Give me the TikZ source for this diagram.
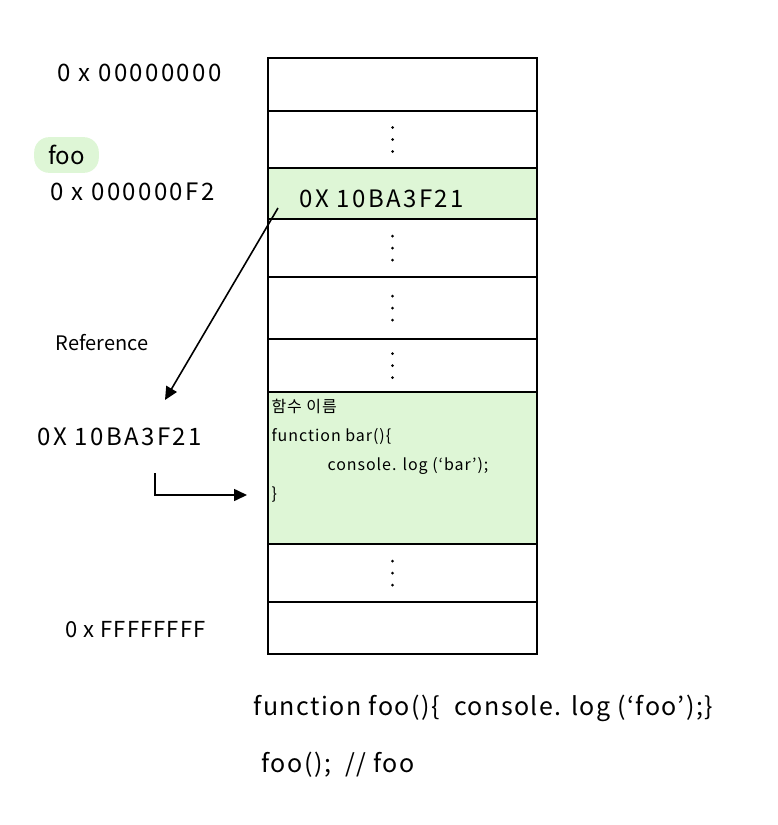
\documentclass[tikz,border=0pt]{standalone}
\usepackage{fontspec}
\setmainfont{Noto Sans CJK KR}
\usetikzlibrary{
  positioning,
  arrows.meta
}
\definecolor{hlgreen}{RGB}{222,246,214}
\tikzset{
  cell/.style={draw, line width=1.6pt, minimum width=269pt, inner sep=0pt, outer sep=0pt},
  marked/.style={cell, fill=hlgreen},
  addr/.style={anchor=west, font=\fontsize{24}{28}\selectfont\addfontfeature{LetterSpace=10}},
  code/.style={anchor=north west, align=left, font=\fontsize{16}{29}\selectfont\addfontfeature{LetterSpace=6}},
  ptr/.style={-{Triangle[length=13pt,width=12pt]}, line width=1.6pt},
  dot/.style={circle, fill, inner sep=0pt, minimum size=3pt}
}

\begin{document}
\begin{tikzpicture}[x=1pt, y=-1pt]
    \useasboundingbox (0,0) rectangle (778,825);
    % memory cells
    \node[cell, minimum height=53pt] (c0) at (402.5,84.5) {};
    \node[cell, minimum height=57pt, below=0pt of c0] (c1) {};
    \node[marked, minimum height=51pt, below=0pt of c1] (c2) {};
    \node[cell, minimum height=58pt, below=0pt of c2] (c3) {};
    \node[cell, minimum height=62pt, below=0pt of c3] (c4) {};
    \node[cell, minimum height=53pt, below=0pt of c4] (c5) {};
    \node[marked, minimum height=152pt, below=0pt of c5] (c6) {};
    \node[cell, minimum height=58pt, below=0pt of c6] (c7) {};
    \node[cell, minimum height=52pt, below=0pt of c7] (c8) {};
    \foreach \c in {c1,c3,c4,c5,c7}
      \foreach \d in {-12,0,12}
        \node[dot] at ([xshift=-10pt, yshift=\d pt]\c.center) {};
    % addresses
    \node[addr] (a0) at (54,73) {0 x 00000000};
    \node[anchor=west, fill=hlgreen, rounded corners=15pt, inner xsep=14pt, inner ysep=8pt,
          font=\fontsize{24}{28}\selectfont] (foo) at (34,155) {foo};
    \node[addr] (a1) at (47,192) {0 x 000000F2};
    \node[addr, font=\fontsize{20}{24}\selectfont] (ref) at (52,343) {Reference};
    \node[addr] (a2) at (34,437) {0X 10BA3F21};
    \node[addr] (val) at (296,199) {0X 10BA3F21};
    \node[addr, font=\fontsize{22}{26}\selectfont\addfontfeature{LetterSpace=5}] (a3) at (62,630) {0 x FFFFFFFF};
    % function body
    \node[code] (body) at (268,396) {함수 이름\\function bar()\{\\\hspace*{56pt}console. log (`bar');\\\}};
    % pointers
    \coordinate (p0) at (278,208);
    \coordinate (p1) at (165,400);
    \draw[ptr] (p0) -- (p1);
    \coordinate (q0) at (155,473);
    \coordinate (q1) at (247,495);
    \draw[ptr] (q0) |- (q1);
    % source
    \node[addr, font=\fontsize{25}{30}\selectfont\addfontfeature{LetterSpace=6}] (src) at (250,708) {function foo()\{ \ console. log (`foo');\}};
    \node[addr, font=\fontsize{25}{30}\selectfont\addfontfeature{LetterSpace=6}] (call) at (258,765) {foo(); \ // foo};
\end{tikzpicture}
\end{document}
